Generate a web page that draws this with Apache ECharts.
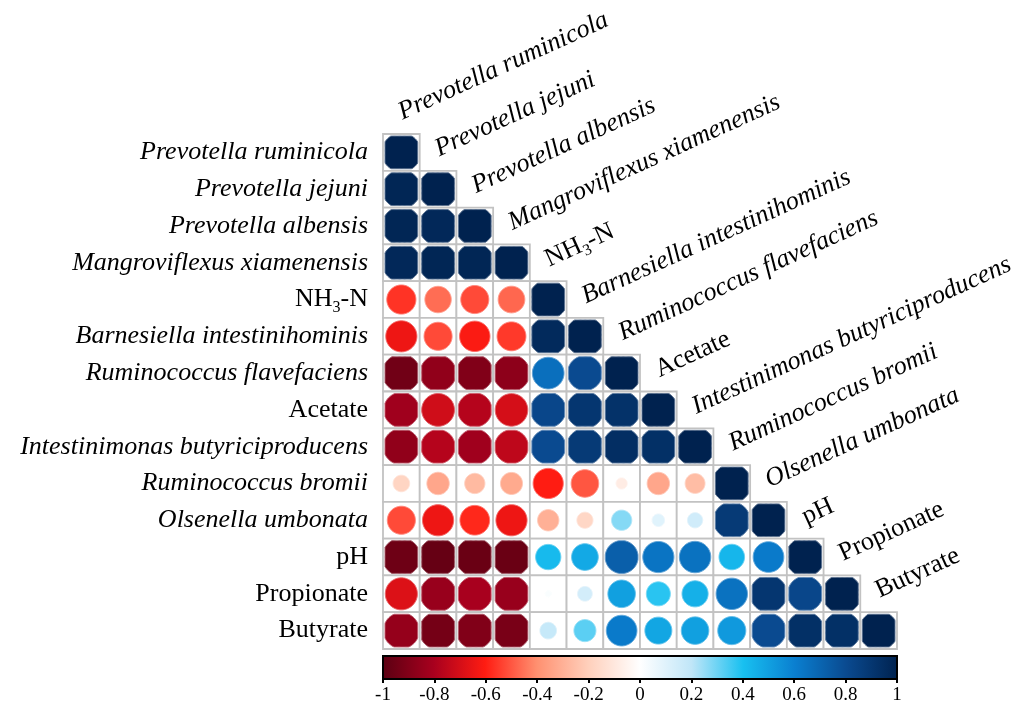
<!DOCTYPE html>
<html>
<head>
<meta charset="utf-8">
<title>Correlation matrix</title>
<script src="https://cdn.jsdelivr.net/npm/echarts@6/dist/echarts.min.js"></script>
<style>
  html, body { margin: 0; padding: 0; background: #fff; }
  #chart { width: 1023px; height: 705px; }
</style>
</head>
<body>
<div id="chart"></div>
<script>
// Variables in matrix order (rows top to bottom, columns left to right)
const variables = [
  'Prevotella ruminicola',
  'Prevotella jejuni',
  'Prevotella albensis',
  'Mangroviflexus xiamenensis',
  'NH3-N',
  'Barnesiella intestinihominis',
  'Ruminococcus flavefaciens',
  'Acetate',
  'Intestinimonas butyriciproducens',
  'Ruminococcus bromii',
  'Olsenella umbonata',
  'pH',
  'Propionate',
  'Butyrate'
];

// Lower triangle of the correlation matrix, one row per variable
const rowPrevotellaRuminicola = [1];
const rowPrevotellaJejuni = [0.98, 1];
const rowPrevotellaAlbensis = [0.98, 0.97, 1];
const rowMangroviflexus = [0.97, 0.98, 0.98, 1];
const rowNH3N = [-0.56, -0.46, -0.52, -0.47, 1];
const rowBarnesiella = [-0.64, -0.52, -0.61, -0.55, 0.96, 1];
const rowRuminococcusFlav = [-0.94, -0.86, -0.9, -0.87, 0.66, 0.8, 1];
const rowAcetate = [-0.82, -0.71, -0.77, -0.7, 0.82, 0.9, 0.92, 1];
const rowIntestinimonas = [-0.86, -0.77, -0.82, -0.75, 0.8, 0.88, 0.94, 0.93, 1];
const rowRuminococcusBromii = [-0.18, -0.33, -0.27, -0.32, -0.6, -0.5, -0.08, -0.33, -0.26, 1];
const rowOlsenella = [-0.52, -0.64, -0.58, -0.64, -0.3, -0.17, 0.27, 0.1, 0.15, 0.88, 1];
const rowPH = [-0.95, -0.97, -0.96, -0.96, 0.42, 0.47, 0.72, 0.64, 0.65, 0.43, 0.62, 1];
const rowPropionate = [-0.68, -0.84, -0.8, -0.84, 0.02, 0.14, 0.5, 0.38, 0.45, 0.65, 0.9, 0.82, 1];
const rowButyrate = [-0.85, -0.93, -0.9, -0.92, 0.18, 0.32, 0.62, 0.48, 0.5, 0.52, 0.8, 0.93, 0.93, 1];

const corrRows = [
  rowPrevotellaRuminicola, rowPrevotellaJejuni, rowPrevotellaAlbensis, rowMangroviflexus,
  rowNH3N, rowBarnesiella, rowRuminococcusFlav, rowAcetate, rowIntestinimonas,
  rowRuminococcusBromii, rowOlsenella, rowPH, rowPropionate, rowButyrate
];

// Diverging palette from -1 to 1 in steps of 0.2
const palette = [
  '#5a0012', '#a8001e', '#ff1c12', '#ff9070', '#ffd0bc', '#ffffff',
  '#c0e6f8', '#18c0f0', '#0a7fd0', '#0a4a90', '#00224f'
];

// Colour bar range and tick labels
const barRange = [-1, 1];
const barTicks = [-1, -0.8, -0.6, -0.4, -0.2, 0, 0.2, 0.4, 0.6, 0.8, 1];

const SERIF = '"Liberation Serif", "Times New Roman", Times, serif';

// Rich-text markup for a label: species in italics, NH3-N with a subscript
function labelMarkup(name) {
  if (name === 'NH3-N') return '{n|NH}{s|3}{n|-N}';
  if (name.indexOf(' ') >= 0) return '{i|' + name + '}';
  return '{n|' + name + '}';
}
const labelRich = {
  i: { fontFamily: SERIF, fontSize: 26, fontStyle: 'italic', color: '#000', lineHeight: 32 },
  n: { fontFamily: SERIF, fontSize: 26, color: '#000', lineHeight: 32 },
  s: { fontFamily: SERIF, fontSize: 16, color: '#000', lineHeight: 16, verticalAlign: 'bottom' }
};

// Cells of the lower triangle: [column, row, r]
const cells = [];
corrRows.forEach((row, i) => {
  row.forEach((r, j) => cells.push([j, i, r]));
});

// Blend a colour toward white for the thin rim around each disc
function tint(color, t) {
  const c = echarts.color.parse(color);
  if (!c) return color;
  const m = k => Math.round(c[k] + (255 - c[k]) * t);
  return 'rgb(' + m(0) + ',' + m(1) + ',' + m(2) + ')';
}

const chart = echarts.init(document.getElementById('chart'), null, { renderer: 'canvas' });

// One cell: white square with grey frame, disc whose area follows |r|, clipped to the square
function renderCell(params, api) {
  const col = api.value(0), row = api.value(1), r = api.value(2);
  const c = api.coord([col, row]);
  const sz = api.size([1, 1]);
  const w = sz[0], h = sz[1];
  const half = Math.min(w, h) / 2;
  const inner = half - 2;
  const R = half * 1.06 * Math.sqrt(Math.abs(r));
  const pts = [];
  const N = 96;
  for (let k = 0; k < N; k++) {
    const a = (k / N) * Math.PI * 2;
    let px = R * Math.cos(a), py = R * Math.sin(a);
    px = Math.max(-inner, Math.min(inner, px));
    py = Math.max(-inner, Math.min(inner, py));
    pts.push([c[0] + px, c[1] + py]);
  }
  const fill = api.visual('color');
  return {
    type: 'group',
    children: [
      {
        type: 'rect',
        shape: { x: c[0] - w / 2, y: c[1] - h / 2, width: w, height: h },
        style: { fill: '#fff', stroke: '#c2c2c2', lineWidth: 1.8 }
      },
      {
        type: 'polygon',
        shape: { points: pts },
        style: { fill: fill, stroke: tint(fill, 0.35), lineWidth: 1 }
      }
    ]
  };
}

// Slanted column names running along the diagonal
const ANGLE = 24.5 * Math.PI / 180;
function renderTopLabel(params, api) {
  const j = api.value(0);
  const c = api.coord([j, j]);
  const sz = api.size([1, 1]);
  // baseline start sits near the centre of the cell just above the diagonal
  const bx = c[0] + 2, by = c[1] - sz[1] + 6;
  const up = 9;
  return {
    type: 'text',
    x: bx - up * Math.sin(ANGLE),
    y: by - up * Math.cos(ANGLE),
    rotation: ANGLE,
    style: {
      text: labelMarkup(variables[j]),
      rich: labelRich,
      align: 'left',
      verticalAlign: 'middle'
    }
  };
}

// Gradient colour bar spanning the value axis below the matrix
function renderColorBar(params, api) {
  const p0 = api.coord([api.value(0), 1]);
  const p1 = api.coord([api.value(1), 0]);
  const stops = palette.map((col, k) => ({ offset: k / (palette.length - 1), color: col }));
  return {
    type: 'rect',
    shape: { x: p0[0], y: p0[1], width: p1[0] - p0[0], height: p1[1] - p0[1] },
    style: {
      fill: new echarts.graphic.LinearGradient(0, 0, 1, 0, stops),
      stroke: '#000',
      lineWidth: 2
    }
  };
}

const option = {
  animation: false,
  backgroundColor: '#fff',
  grid: [
    { left: 383, top: 134, width: 514, height: 515, containLabel: false },
    { left: 383, top: 656, width: 514, height: 23, containLabel: false }
  ],
  xAxis: [
    {
      gridIndex: 0, type: 'category', data: variables, position: 'top',
      axisLine: { show: false }, axisTick: { show: false }, axisLabel: { show: false },
      splitLine: { show: false }
    },
    {
      gridIndex: 1, type: 'value', min: barRange[0], max: barRange[1], interval: 0.2,
      position: 'bottom',
      axisLine: { show: false },
      splitLine: { show: false },
      axisTick: { show: true, length: 4, lineStyle: { color: '#000', width: 2 } },
      axisLabel: {
        show: true, margin: 7, color: '#000', fontFamily: SERIF, fontSize: 19,
        formatter: v => {
          const t = barTicks.find(b => Math.abs(b - v) < 1e-6);
          return t === undefined ? '' : String(t);
        }
      }
    }
  ],
  yAxis: [
    {
      gridIndex: 0, type: 'category', data: variables, inverse: true,
      axisLine: { show: false }, axisTick: { show: false }, splitLine: { show: false },
      axisLabel: {
        show: true, margin: 15, formatter: v => labelMarkup(v), rich: labelRich
      }
    },
    {
      gridIndex: 1, type: 'value', min: 0, max: 1, show: false
    }
  ],
  visualMap: {
    show: false, type: 'continuous', min: -1, max: 1, dimension: 2,
    seriesIndex: 0, inRange: { color: palette }
  },
  series: [
    {
      type: 'custom', xAxisIndex: 0, yAxisIndex: 0,
      renderItem: renderCell, data: cells, clip: false
    },
    {
      type: 'custom', xAxisIndex: 0, yAxisIndex: 0,
      renderItem: renderTopLabel,
      data: variables.map((v, j) => [j, j]), clip: false, silent: true
    },
    {
      type: 'custom', xAxisIndex: 1, yAxisIndex: 1,
      renderItem: renderColorBar, data: [[barRange[0], barRange[1]]], clip: false, silent: true
    }
  ]
};

chart.setOption(option);
</script>
</body>
</html>
